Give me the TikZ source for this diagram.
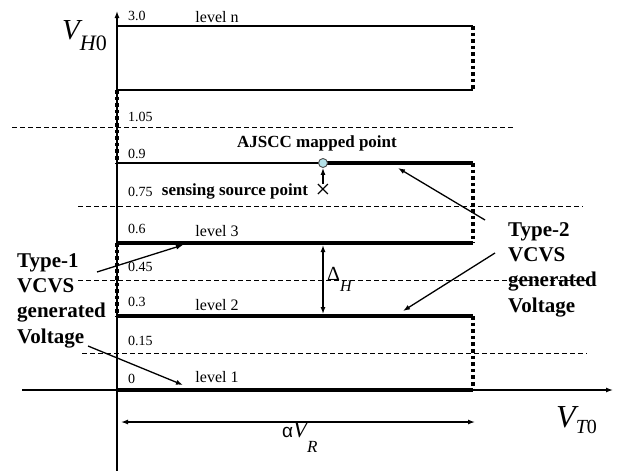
\documentclass[tikz,border=0pt]{standalone}
\usepackage{fontspec}
\setmainfont{Liberation Serif}
\newfontfamily\sansgreek{Liberation Sans}
\usetikzlibrary{arrows.meta,positioning,calc}
\tikzset{>={Latex[length=7pt,width=5pt]}}
\tikzset{
  axisline/.style={line width=1.3pt},
  thinlevel/.style={line width=1.7pt},
  thicklevel/.style={line width=3.3pt},
  dotlevel/.style={line width=3.6pt, dash pattern=on 3.6pt off 3pt},
  gridline/.style={line width=0.9pt, dash pattern=on 5pt off 3pt},
  pointer/.style={->, line width=1.3pt},
  ticklabel/.style={font=\fontsize{14}{14}\selectfont, anchor=base west, inner sep=0pt},
  levellabel/.style={font=\fontsize{16}{16}\selectfont, anchor=base, inner sep=0pt},
  boldlabel/.style={font=\fontsize{17}{17}\selectfont\bfseries, anchor=base, inner sep=0pt},
  typelabel/.style={font=\fontsize{21}{25.3}\selectfont\bfseries, align=left,
    anchor=base west, inner sep=0pt},
}
\definecolor{pointfill}{RGB}{180,225,232}
\begin{document}
\begin{tikzpicture}[x=1pt, y=-1pt]
  \useasboundingbox (0,0) rectangle (619,471);
  % threshold lines
  \draw[gridline] (12,127) -- (515,127);
  \draw[gridline] (78,206) -- (583,206);
  \draw[gridline] (78,280) -- (590,280);
  \draw[gridline] (82,353) -- (587,353);
  % axes
  \draw[axisline, ->] (117,471) -- (117,11);
  \draw[axisline, ->] (22,390) -- (613,390);
  % level n box
  \draw[thinlevel] (117,26) -- (473,26);
  \draw[thinlevel] (117,90) -- (473,90);
  \draw[dotlevel] (473,26) -- (473,90);
  \draw[dotlevel] (117,90) -- (117,163);
  % level 0.9
  \draw[thinlevel] (117,163) -- (323,163);
  \draw[thicklevel] (323,163) -- (473,163);
  \draw[dotlevel] (473,163) -- (473,243);
  % level 3
  \draw[thicklevel] (117,243) -- (473,243);
  \draw[dotlevel] (117,243) -- (117,316);
  % level 2
  \draw[thicklevel] (117,316) -- (473,316);
  \draw[dotlevel] (473,316) -- (473,390);
  % level 1
  \draw[thicklevel] (117,390) -- (473,390);

  % tick values
  \node[ticklabel] (t30) at (128,20) {3.0};
  \node[ticklabel] (t105) at (128,121) {1.05};
  \node[ticklabel] (t09) at (128,158) {0.9};
  \node[ticklabel] (t075) at (128,196) {0.75};
  \node[ticklabel] (t06) at (128,233) {0.6};
  \node[ticklabel] (t045) at (128,271) {0.45};
  \node[ticklabel] (t03) at (128,306) {0.3};
  \node[ticklabel] (t015) at (128,345) {0.15};
  \node[ticklabel] (t0) at (128,383) {0};

  % level names
  \node[levellabel] (lvn) at (217,23) {level n};
  \node[levellabel] (lv3) at (217,236) {level 3};
  \node[levellabel] (lv2) at (217,310) {level 2};
  \node[levellabel] (lv1) at (217,382) {level 1};

  % axis names
  \node[anchor=base west, inner sep=0pt] (vh) at (62,39)
    {\fontsize{29}{29}\selectfont\itshape V\raisebox{-11pt}{\fontsize{22}{22}\selectfont H\upshape 0}};
  \node[anchor=base west, inner sep=0pt] (vt) at (556,427)
    {\fontsize{32}{32}\selectfont\itshape V\raisebox{-6pt}{\fontsize{20}{20}\selectfont T\upshape 0}};

  % mapped point
  \node[boldlabel] (ajscc) at (317,147) {AJSCC mapped point};
  \node[circle, draw=black!70, line width=0.9pt, fill=pointfill, minimum size=9pt,
    inner sep=0pt] (mapped) at (323,163) {};
  \node[inner sep=0pt, font=\fontsize{27}{27}\selectfont] (src) at (323,191) {×};
  \node[boldlabel] (sensing) at (235,195) {sensing source point};
  \draw[pointer] (src.north) -- (mapped.south);

  % step size
  \coordinate (dtop) at (323,245);
  \coordinate (dbot) at (323,314);
  \draw[<->, line width=1.3pt] (dtop) -- (dbot);
  \node[anchor=base west, inner sep=0pt] (dh) at (327,280)
    {\fontsize{20}{20}\selectfont Δ\raisebox{-11pt}{\fontsize{16}{16}\selectfont\itshape H}};

  % range
  \coordinate (rleft) at (121,422);
  \coordinate (rright) at (475,422);
  \draw[<->, line width=1.3pt] (rleft) -- (rright);
  \node[anchor=base west, inner sep=0pt] (avr) at (282,437)
    {{\sansgreek\fontsize{19}{19}\selectfont α}{\fontsize{23}{23}\selectfont\itshape V}\raisebox{-15pt}{\fontsize{17}{17}\selectfont\itshape R}};

  % type 1
  \node[typelabel] (type1) at (17,343) {Type-1\\VCVS\\generated\\Voltage};
  \coordinate (t1a) at (97,272);
  \coordinate (t1b) at (88,346);
  \coordinate (lv3pt) at (183,245);
  \coordinate (lv1pt) at (183,385);
  \draw[pointer] (t1a) -- (lv3pt);
  \draw[pointer] (t1b) -- (lv1pt);

  % type 2
  \node[typelabel] (type2) at (508,312) {Type-2\\VCVS\\generated\\Voltage};
  \coordinate (t2a) at (485,220);
  \coordinate (t2b) at (495,253);
  \coordinate (upperpt) at (398,168);
  \coordinate (lv2pt) at (403,311);
  \draw[pointer] (t2a) -- (upperpt);
  \draw[pointer] (t2b) -- (lv2pt);
\end{tikzpicture}
\end{document}
